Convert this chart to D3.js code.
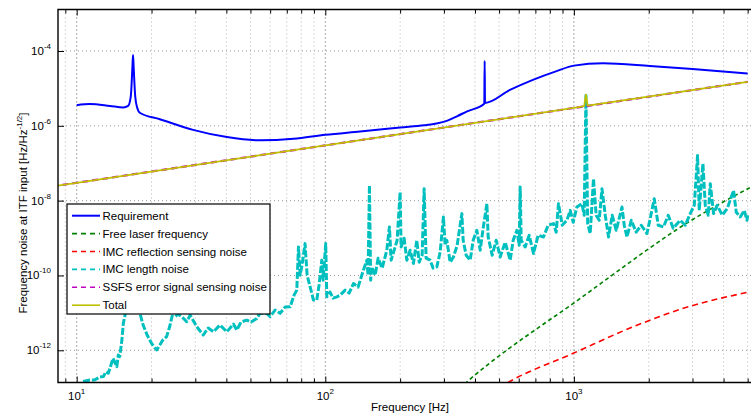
<!DOCTYPE html>
<html><head><meta charset="utf-8">
<script src="https://cdn.jsdelivr.net/npm/d3@7"></script>
<style>
body{margin:0;background:#fff}
svg{display:block}
text{font-family:"Liberation Sans",Arial,Helvetica,sans-serif;fill:#000}
</style>
</head><body>
<svg id="c" width="751" height="413"></svg>
<script>
// ---------------- data ----------------
const xTickExps = ["1", "2", "3"];
const xTickValues = [10, 100, 1000];
const yTickExps = ["-4", "-6", "-8", "-10", "-12"];
const yTickValues = [1e-4, 1e-6, 1e-8, 1e-10, 1e-12];

const seriesNames = ["Requirement", "Free laser frequency", "IMC reflection sensing noise",
  "IMC length noise", "SSFS error signal sensing noise", "Total"];

const requirement = [[10,3.56e-6],[11.3,3.8e-6],[13.6,3.4e-6],[15.4,3.1e-6],[16.1,3.4e-6],[16.5,6.0e-6],
  [16.75,3.6e-5],[16.85,7.8e-5],[16.95,3.6e-5],[17.2,6.0e-6],[17.5,3.1e-6],[18.0,2.2e-6],[21.6,1.5e-6],
  [29.4,7.8e-7],[40.2,5.0e-7],[54.6,4.1e-7],[74.5,4.5e-7],[100,5.75e-7],[138,7.05e-7],[200,9.0e-7],
  [250,1.03e-6],[280,1.15e-6],[310,1.38e-6],[340,1.82e-6],[370,2.4e-6],[436,3.9e-6],[437.5,5.4e-5],[439,4.1e-6],
  [553,9.1e-6],[684,1.69e-5],[852,2.9e-5],[1000,4.06e-5],[1310,4.7e-5],[2020,3.98e-5],[3000,3.3e-5],[5000,2.5e-5]];

const freeLaser = [[330,7e-14],[370,1.4e-13],[536,1.0e-12],[729,4.27e-12],[994,1.79e-11],[1396,9.2e-11],
  [1962,4.73e-10],[2755,2.19e-9],[3873,8.3e-9],[5100,2.22e-8]];

const imcReflection = [[500,1.0e-13],[545,1.4e-13],[994,8.3e-13],[1734,4.26e-12],[2755,1.32e-11],[5100,3.66e-11]];

const imcLength = [[10,9.9e-14],[10.6,1.46e-13],[11.3,1.6e-13],[11.8,1.6e-13],[12.4,1.94e-13],[12.8,1.98e-13],
  [13.1,2.64e-13],[13.4,2.44e-13],[13.7,3.81e-13],[14.0,6.1e-13],[14.5,3.66e-13],[14.7,7.5e-13],[14.9,6.75e-13],
  [15.2,1.88e-12],[15.4,5.25e-12],[15.6,7.9e-12],[16.1,2.2e-11],[16.7,4.06e-11],[17.3,1.61e-11],[18.0,9.3e-12],
  [18.5,4.73e-12],[19.2,2.56e-12],[20.0,1.54e-12],[20.7,1.13e-12],[21.0,1.02e-12],[21.6,1.38e-12],[22.2,1.88e-12],
  [23.0,2.31e-12],[23.7,4.45e-12],[24.2,8.2e-12],[24.9,7.9e-12],[25.6,9.3e-12],[26.9,7.1e-12],[27.7,5.8e-12],
  [28.6,8.7e-12],[30.4,4.26e-12],[32.3,2.56e-12],[33.8,3.94e-12],[35.5,3.13e-12],[37.7,4.73e-12],[40.2,3.13e-12],
  [42.7,5.0e-12],[44.1,3.48e-12],[45.8,5.7e-12],[48.3,6.4e-12],[50.3,5.7e-12],[53.0,7.1e-12],[54.6,9.7e-12],
  [58.2,9.7e-12],[60.0,7.9e-12],[62.8,1.19e-11],[65.8,9.7e-12],[68.9,1.43e-11],[72.2,1.46e-11],[74.9,2.98e-11],
  [76.8,4.06e-11],[78.0,5.8e-10],[79.2,1.02e-10],[80.6,1.88e-10],[82.9,7.1e-10],[84.5,1.02e-10],[86.9,4.97e-11],
  [89.6,2.2e-11],[92.4,2.2e-11],[94.4,5.5e-11],[96.8,2.56e-10],[98.0,7.5e-11],[100.4,7.1e-10],[101.4,2.69e-11],
  [104.5,3.59e-11],[107.5,2.48e-11],[111.3,2.69e-11],[114.7,2.98e-11],[120.2,4.06e-11],[124.7,3.37e-11],
  [129.8,6.1e-11],[135.5,4.88e-11],[142.3,1.38e-10],[146.9,2.56e-10],[148.6,1.02e-10],[150.5,2.56e-8],
  [152.2,7.5e-11],[153.9,1.69e-10],[158.7,1.02e-10],[163.1,2.89e-10],[169.3,1.57e-10],[176.8,4.73e-10],
  [181.1,1.98e-9],[184.0,2.56e-10],[189.2,4.73e-10],[194.5,8.7e-10],[200.0,1.69e-8],[201.8,5.8e-10],
  [207.5,9.9e-10],[212.8,2.56e-10],[219.4,4.73e-10],[226.2,2.09e-10],[233.4,8.7e-10],[238.5,2.26e-10],
  [245.2,3.48e-10],[249.8,2.09e-8],[254.4,2.89e-10],[264.0,2.56e-10],[271.5,1.57e-10],[280.9,1.69e-10],
  [289.7,4.18e-10],[298.7,3.66e-9],[303.4,6.4e-10],[308.2,8.7e-10],[317.8,2.26e-10],[327.7,3.13e-10],
  [339.2,6.4e-10],[354.3,4.5e-9],[358.6,8.7e-10],[368.7,3.48e-10],[382.6,2.56e-10],[393.4,8.7e-10],
  [407.1,1.61e-9],[419.8,4.73e-10],[431.5,1.82e-9],[446.6,8.3e-9],[452.0,1.07e-9],[469.1,3.48e-10],
  [486.8,8.7e-10],[505.1,3.13e-10],[529.1,7.7e-10],[554.2,2.56e-10],[569.8,8.7e-10],[589.7,1.61e-9],
  [602.5,6.4e-10],[608.1,2.31e-8],[613.8,8.7e-10],[636.8,5.8e-10],[660.9,1.19e-9],[687.8,3.86e-10],
  [718.4,1.19e-9],[754.6,1.07e-9],[788.2,2.2e-9],[827.8,2.44e-9],[848.8,1.43e-9],[867.0,8.3e-9],
  [897.3,2.2e-9],[937.3,2.98e-9],[966.3,5.5e-9],[993.6,2.64e-9],[1028,6.75e-9],[1077,8.3e-9],[1100,4.06e-9],
  [1118,6.43e-6],[1136,2.44e-9],[1163,1.32e-9],[1199,3.86e-8],[1229,4.06e-9],[1264,2.98e-9],[1297,2.09e-8],
  [1337,4.06e-9],[1378,1.07e-9],[1426,4.06e-9],[1480,1.61e-9],[1561,6.75e-9],[1594,2.2e-9],[1635,1.07e-9],
  [1701,2.98e-9],[1781,1.43e-9],[1866,2.2e-9],[1967,1.32e-9],[2028,3.37e-9],[2105,1.13e-8],[2184,2.2e-9],
  [2294,1.98e-9],[2396,4.06e-9],[2509,1.82e-9],[2678,2.98e-9],[2805,2.2e-9],[2938,4.5e-9],[3049,7.5e-9],
  [3144,1.61e-7],[3193,5.5e-9],[3304,9.7e-8],[3376,7.5e-9],[3471,4.06e-9],[3536,2.84e-8],[3646,4.5e-9],
  [3773,7.5e-9],[3953,4.06e-9],[4140,6.2e-9],[4388,1.88e-8],[4499,4.88e-9],[4669,3.66e-9],[4845,5.5e-9],
  [4969,2.98e-9],[5000,4.06e-9]];

const ssfsError = [[8,2.4e-8],[10,3.0e-8],[100,3.0e-7],[1000,3.0e-6],[5000,1.5e-5]];

const total = [[8,2.4e-8],[10,3.0e-8],[100,3.0e-7],[1000,3.0e-6],[1100,3.35e-6],[1118,6.8e-6],[1136,3.45e-6],[5000,1.5e-5]];

// ---------------- layout ----------------
const svg = d3.select("#c");
const L = 58, R = 762, T = 9.5, B = 382.5;
const x = d3.scaleLog().domain([8.41, 5710]).range([L, R]);
const y = d3.scaleLog().domain([1.377e-13, 1.285e-3]).range([B, T]);

const xAll = [];
[1, 10, 100, 1000].forEach(d => { for (let m = 1; m <= 9; m++) { const v = m * d; if (v >= x.domain()[0] && v <= x.domain()[1]) xAll.push(v); } });
const xMinor = xAll.filter(v => !xTickValues.includes(v));

// grid
const grid = svg.append("g");
grid.selectAll(".gmin").data(xMinor).enter().append("line")
  .attr("x1", d => x(d)).attr("x2", d => x(d)).attr("y1", T).attr("y2", B)
  .attr("stroke", "#b4b4b4").attr("stroke-width", 1).attr("stroke-dasharray", "1,3");
grid.selectAll(".gmaj").data(xTickValues).enter().append("line")
  .attr("x1", d => x(d)).attr("x2", d => x(d)).attr("y1", T).attr("y2", B)
  .attr("stroke", "#555").attr("stroke-width", 1).attr("stroke-dasharray", "1,3");
grid.selectAll(".gy").data(yTickValues).enter().append("line")
  .attr("x1", L).attr("x2", R).attr("y1", d => y(d)).attr("y2", d => y(d))
  .attr("stroke", "#9a9a9a").attr("stroke-width", 1).attr("stroke-dasharray", "1,3");

// clip
svg.append("clipPath").attr("id", "clip").append("rect")
  .attr("x", L).attr("y", T).attr("width", R - L).attr("height", B - T);
const plot = svg.append("g").attr("clip-path", "url(#clip)");

const lineLin = d3.line().x(d => x(d[0])).y(d => y(d[1]));
const lineSmooth = d3.line().x(d => x(d[0])).y(d => y(d[1])).curve(d3.curveMonotoneX);

const styles = [
  {data: requirement, color: "#0000ff", w: 2, dash: null, gen: lineSmooth},
  {data: freeLaser, color: "#008000", w: 1.6, dash: "4,3", gen: lineSmooth},
  {data: imcReflection, color: "#ff0000", w: 1.6, dash: "6,4", gen: lineSmooth},
  {data: imcLength, color: "#00bfbf", w: 3, dash: "7,2", gen: lineLin},
  {data: ssfsError, color: "#bf00bf", w: 2.2, dash: "6,4", gen: lineLin},
  {data: total, color: "#bfbf00", w: 1.8, dash: null, gen: lineLin}
];
styles.forEach(s => {
  plot.append("path").attr("d", s.gen(s.data)).attr("fill", "none")
    .attr("stroke", s.color).attr("stroke-width", s.w)
    .attr("stroke-dasharray", s.dash).attr("stroke-linejoin", "round");
});

// axes (inward ticks)
function axisG(axis, tx, ty) {
  const g = svg.append("g").attr("transform", `translate(${tx},${ty})`).call(axis);
  g.select(".domain").remove();
  g.selectAll(".tick line").attr("stroke", "#000").attr("stroke-width", 1);
  return g;
}
axisG(d3.axisBottom(x).tickValues(xMinor).tickSize(-4).tickFormat(""), 0, B);
axisG(d3.axisBottom(x).tickValues(xTickValues).tickSize(-6).tickFormat(""), 0, B);
axisG(d3.axisTop(x).tickValues(xMinor).tickSize(-4).tickFormat(""), 0, T);
axisG(d3.axisTop(x).tickValues(xTickValues).tickSize(-6).tickFormat(""), 0, T);
axisG(d3.axisLeft(y).tickValues(yTickValues).tickSize(-6).tickFormat(""), L, 0);

// frame
svg.append("path").attr("d", `M${R},${T}H${L}V${B}H${R}`).attr("fill", "none")
  .attr("stroke", "#000").attr("stroke-width", 1.4);

// tick labels
xTickValues.forEach((v, i) => {
  const t = svg.append("text").attr("x", x(v)).attr("y", 400).attr("text-anchor", "middle").attr("font-size", 11.5);
  t.append("tspan").text("10");
  t.append("tspan").attr("dy", -6).attr("font-size", 8).text(xTickExps[i]);
});
yTickValues.forEach((v, i) => {
  const t = svg.append("text").attr("x", 51).attr("y", y(v) + 4).attr("text-anchor", "end").attr("font-size", 11.5);
  t.append("tspan").text("10");
  t.append("tspan").attr("dy", -6).attr("font-size", 8).text(yTickExps[i]);
});

// axis labels
svg.append("text").attr("x", 410).attr("y", 411).attr("text-anchor", "middle")
  .attr("font-size", 11.5).text("Frequency [Hz]");
const yl = svg.append("text").attr("transform", "translate(26.5,213) rotate(-90)")
  .attr("text-anchor", "middle").attr("font-size", 11.5);
yl.append("tspan").text("Frequency noise at ITF input [Hz/Hz");
yl.append("tspan").attr("dy", -5).attr("font-size", 8).text("-1/2");
yl.append("tspan").attr("dy", 5).text("]");

// legend
const lg = svg.append("g");
lg.append("rect").attr("x", 67).attr("y", 204).attr("width", 203).attr("height", 110)
  .attr("fill", "#fff").attr("stroke", "#000").attr("stroke-width", 1.2);
styles.forEach((s, i) => {
  const yy = 215.7 + i * 17.9;
  lg.append("line").attr("x1", 72).attr("x2", 100).attr("y1", yy).attr("y2", yy)
    .attr("stroke", s.color).attr("stroke-width", i === 0 ? 2 : 1.6)
    .attr("stroke-dasharray", s.dash ? "5,4" : null);
  lg.append("text").attr("x", 102.5).attr("y", yy + 4).attr("font-size", 11.5).text(seriesNames[i]);
});
</script>
</body></html>
